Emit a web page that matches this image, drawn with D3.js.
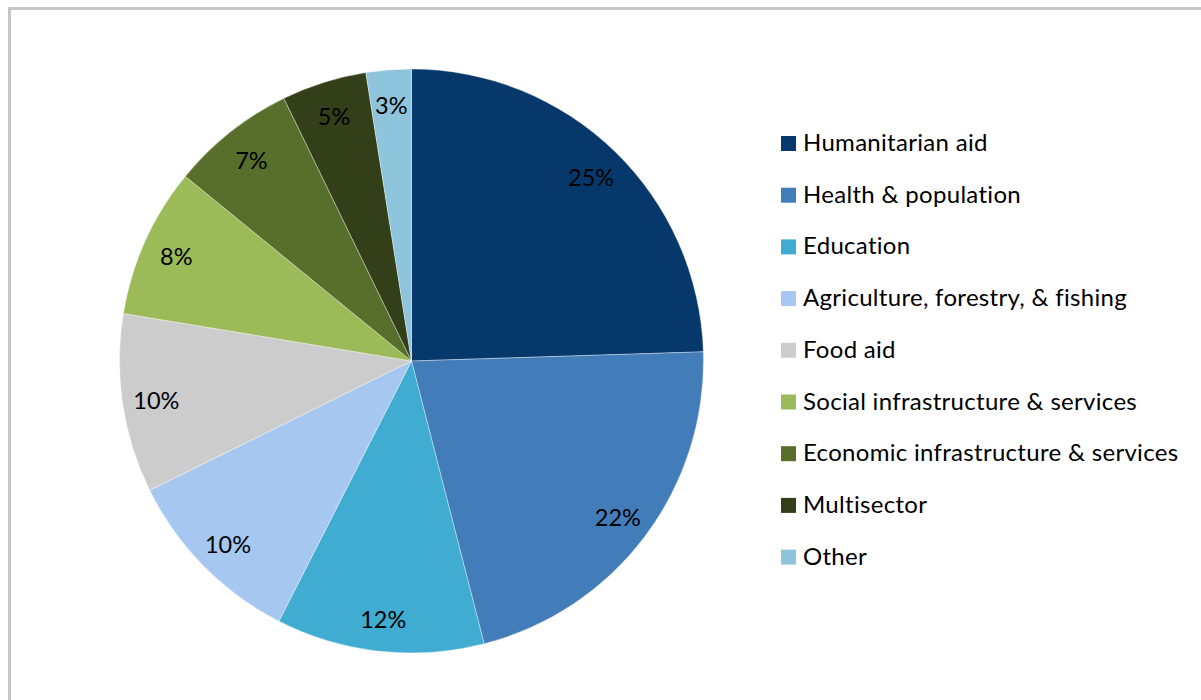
<!DOCTYPE html>
<html>
<head>
<meta charset="utf-8">
<script src="https://cdn.jsdelivr.net/npm/d3@7/dist/d3.min.js"></script>
<style>
  html, body { margin: 0; padding: 0; background: #fff; }
  svg { display: block; }
  text { font-family: Lato, "Open Sans", sans-serif; fill: #000; font-variant-ligatures: none; }
</style>
</head>
<body>
<svg id="chart" width="1201" height="700"></svg>
<script>
// Sector shares of aid spending (percent)
const categories = [
  "Humanitarian aid",
  "Health & population",
  "Education",
  "Agriculture, forestry, & fishing",
  "Food aid",
  "Social infrastructure & services",
  "Economic infrastructure & services",
  "Multisector",
  "Other"
];
const shares = [24.5, 21.5, 11.5, 10.2, 9.9, 8.3, 6.9, 4.7, 2.5];
const palette = ["#06386b", "#427dba", "#40acd1", "#a6c7f0", "#cccccc",
                 "#9bbb59", "#586e2b", "#333f18", "#8ec4dc"];

const svg = d3.select("#chart");

// chart frame
svg.append("rect")
  .attr("x", 9.5).attr("y", 8.5)
  .attr("width", 1300).attr("height", 800)
  .attr("fill", "#fff")
  .attr("stroke", "#c6c6c6")
  .attr("stroke-width", 3);

const cx = 411.5, cy = 361, radius = 292;
const data = categories.map((c, i) => ({ name: c, value: shares[i] }));

const color = d3.scaleOrdinal().domain(categories).range(palette);
const pie = d3.pie().value(d => d.value).sort(null);
const arc = d3.arc().innerRadius(0).outerRadius(radius);
const labelArc = d3.arc().innerRadius(258).outerRadius(258);

const g = svg.append("g").attr("transform", `translate(${cx},${cy})`);
const arcs = pie(data);

g.selectAll("path.slice")
  .data(arcs)
  .join("path")
  .attr("class", "slice")
  .attr("d", arc)
  .attr("fill", d => color(d.data.name))
  .attr("stroke", "#ffffff")
  .attr("stroke-width", 0.6)
  .attr("stroke-opacity", 0.6);

g.selectAll("text.pct")
  .data(arcs)
  .join("text")
  .attr("class", "pct")
  .attr("transform", d => `translate(${labelArc.centroid(d)})`)
  .attr("text-anchor", "middle")
  .attr("dominant-baseline", "central")
  .attr("dy", "0.06em")
  .style("font-size", "23.5px")
  .text(d => Math.round(d.data.value) + "%");

// legend
const legend = svg.append("g").attr("transform", "translate(781,151)");
const rowStep = 51.7;
const rows = legend.selectAll("g.row")
  .data(categories)
  .join("g")
  .attr("class", "row")
  .attr("transform", (d, i) => `translate(0,${i * rowStep})`);

rows.append("rect")
  .attr("x", 0).attr("y", -15)
  .attr("width", 15).attr("height", 15)
  .attr("fill", d => color(d));

rows.append("text")
  .attr("x", 22).attr("y", 0)
  .style("font-size", "24px")
  .style("letter-spacing", "0.3px")
  .text(d => d);
</script>
</body>
</html>
